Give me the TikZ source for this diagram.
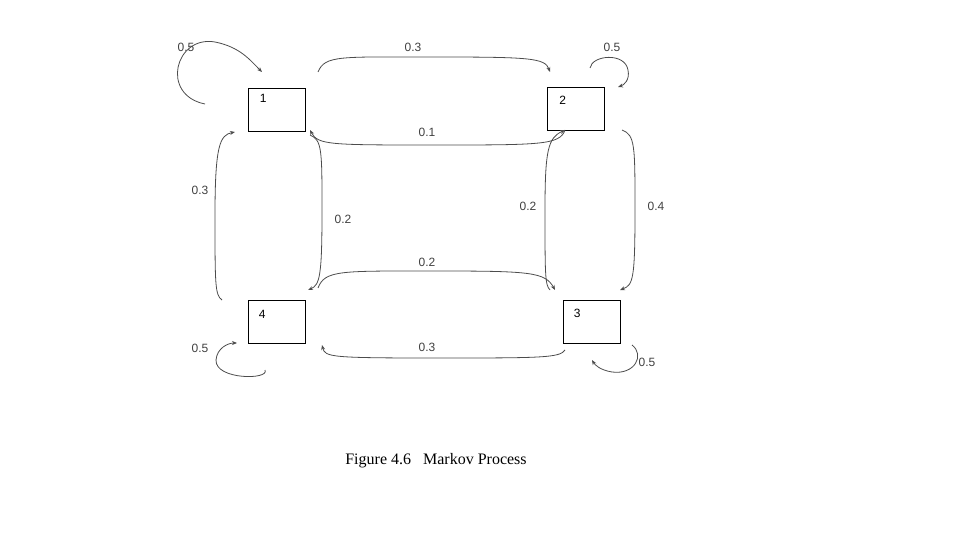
\documentclass[tikz,border=0pt]{standalone}
\usepackage{fontspec}
\setmainfont{Liberation Serif}
\newfontfamily\lab{Liberation Sans}
\usetikzlibrary{arrows.meta}
\begin{document}
\begin{tikzpicture}[x=1pt,y=-1pt,
  st/.style={draw,thick,minimum width=57pt,minimum height=43pt,inner sep=0pt},
  num/.style={font=\lab\fontsize{12}{12}\selectfont,inner sep=1pt},
  lb/.style={font=\lab\fontsize{12}{12}\selectfont,text=black!75,inner sep=1pt},
  ar/.style={draw=black!70,thick,-{Stealth[length=5pt,width=4pt]}}]
\useasboundingbox (0,0) rectangle (960,540);
\node[st] (n1) at (276.5,109.5) {}; \node[num,anchor=north west] at (n1.north west) [xshift=11pt,yshift=-5pt] {1};
\node[st] (n2) at (576,108.5) {}; \node[num,anchor=north west] at (n2.north west) [xshift=11pt,yshift=-8pt] {2};
\node[st] (n4) at (276.5,322) {}; \node[num,anchor=north west] at (n4.north west) [xshift=10pt,yshift=-9pt] {4};
\node[st] (n3) at (591.5,322) {}; \node[num,anchor=north west] at (n3.north west) [xshift=10pt,yshift=-8pt] {3};
% loops
\coordinate (a1) at (205,104); \coordinate (b1) at (262,72);
\draw[ar] (a1) .. controls (160,95) and (175,35) .. (215,42) .. controls (240,47) and (250,60) .. (b1);
\coordinate (a2) at (590,68); \coordinate (b2) at (618,87);
\draw[ar] (a2) .. controls (592,55) and (625,52) .. (628,70) .. controls (630,80) and (624,85) .. (b2);
\coordinate (a4) at (265,370); \coordinate (b4) at (237,343);
\draw[ar] (a4) .. controls (270,380) and (215,380) .. (216,360) .. controls (217,348) and (228,343) .. (b4);
\coordinate (a3) at (632,345); \coordinate (b3) at (592,360);
\draw[ar] (a3) .. controls (645,355) and (635,375) .. (612,372) .. controls (600,370) and (595,365) .. (b3);
% horizontal
\draw[ar] (318,72) .. controls (325,55) and (340,57) .. (435,57) .. controls (530,57) and (545,58) .. (550,72);
\draw[ar] (565,130) .. controls (560,145) and (540,145) .. (435,145) .. controls (330,145) and (318,145) .. (310,130);
\draw[ar] (318,288) .. controls (325,270) and (340,271) .. (435,271) .. controls (530,271) and (545,272) .. (555,290);
\draw[ar] (565,350) .. controls (560,358) and (540,358) .. (435,358) .. controls (330,358) and (325,357) .. (322,345);
% vertical
\draw[ar] (310,135) .. controls (322,140) and (322,150) .. (322,210) .. controls (322,275) and (320,285) .. (308,290);
\draw[ar] (222,300) .. controls (215,295) and (215,285) .. (215,215) .. controls (215,145) and (220,135) .. (235,132);
\draw[ar] (550,290) .. controls (545,285) and (545,275) .. (545,210) .. controls (545,150) and (548,138) .. (565,130);
\draw[ar] (622,130) .. controls (635,135) and (635,145) .. (635,210) .. controls (635,280) and (633,285) .. (620,290);
% labels
\node[lb] at (186,47) {0.5}; \node[lb] at (413,47) {0.3}; \node[lb] at (612,47) {0.5};
\node[lb] at (427,132) {0.1}; \node[lb] at (200,190) {0.3}; \node[lb] at (343,219) {0.2};
\node[lb] at (528,206) {0.2}; \node[lb] at (656,206) {0.4}; \node[lb] at (427,262) {0.2};
\node[lb] at (200,348) {0.5}; \node[lb] at (427,347) {0.3}; \node[lb] at (647,362) {0.5};
\node[font=\fontsize{16}{16}\selectfont] at (436,461) {Figure 4.6\hspace{12pt}Markov Process};
\end{tikzpicture}
\end{document}
